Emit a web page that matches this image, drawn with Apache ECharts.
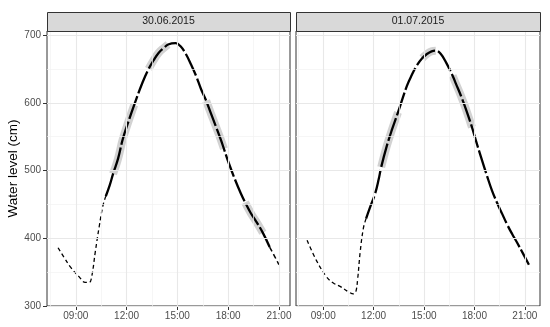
<!DOCTYPE html>
<html><head><meta charset="utf-8">
<script src="https://cdn.jsdelivr.net/npm/echarts@6/dist/echarts.min.js"></script>
<style>html,body{margin:0;padding:0;background:#fff}#c{width:550px;height:327px}</style>
</head><body><div id="c"></div>
<script>
// ---- data (hours of day, water level in cm) ----
const panelTitles = ['30.06.2015', '01.07.2015'];
const xTicks = [9, 12, 15, 18, 21];
const xMinorGrid = [7.5, 10.5, 13.5, 16.5, 19.5];
const yTicks = [300, 400, 500, 600, 700];
const yMinorGrid = [350, 450, 550, 650];
const yAxisTitle = 'Water level (cm)';

const day1Early = [[7.95,386],[8.3,372],[8.7,357],[9.2,343],[9.55,335],[9.8,335],[9.95,345],[10.15,380],[10.38,417],[10.6,448],[10.77,462]];
const day1Main = [[10.77,462],[11.0,478],[11.2,495],[11.5,518],[11.76,545],[12.05,568],[12.45,597],[12.94,630],[13.3,650],[13.6,663],[13.9,674],[14.2,681],[14.45,686],[14.9,688],[15.2,683],[15.5,672],[15.8,657],[16.1,640],[16.4,620],[16.7,603],[16.97,585],[17.26,566],[17.56,546],[17.75,532],[18.05,510],[18.4,487],[18.75,466],[19.0,453],[19.34,437],[19.65,425],[20.05,408],[20.45,387]];
const day1Late = [[20.45,387],[20.75,373],[21.0,361]];
const day1Grey = [
  [[11.2,495],[11.5,518],[11.76,545],[12.05,568],[12.45,597]],
  [[13.3,650],[13.6,663],[13.9,674],[14.2,681],[14.45,686]],
  [[16.7,603],[16.97,585],[17.26,566],[17.56,546],[17.75,532]],
  [[19.0,453],[19.34,437],[19.65,425],[20.05,408]]
];

const day2Early = [[8.04,397],[8.6,367],[9.2,343],[9.6,334],[10.0,329],[10.5,321],[10.8,318],[10.93,320],[11.05,340],[11.2,380],[11.39,415],[11.55,429]];
const day2Main = [[11.55,429],[11.79,446],[12.09,466],[12.3,487],[12.45,505],[12.78,536],[13.1,561],[13.45,586],[13.98,625],[14.27,641],[14.57,655],[14.9,666],[15.17,672],[15.45,676],[15.7,677],[16.0,672],[16.3,660],[16.7,640],[16.9,628],[17.2,610],[17.5,590],[17.85,564],[18.1,543],[18.4,519],[18.76,491],[19.05,470],[19.35,452],[19.65,436],[19.95,420],[20.25,406],[20.55,393],[20.9,377],[21.24,361]];
const day2Late = [];
const day2Grey = [
  [[12.45,505],[12.78,536],[13.1,561],[13.45,586]],
  [[14.9,666],[15.17,672],[15.45,676],[15.7,677]],
  [[16.7,640],[16.9,628],[17.2,610],[17.5,590],[17.85,564]]
];

const days = [
  {early: day1Early, main: day1Main, late: day1Late, grey: day1Grey},
  {early: day2Early, main: day2Main, late: day2Late, grey: day2Grey}
];

// ---- layout ----
const FONT = 'Liberation Sans, Arial, sans-serif';
const grids = [
  {left: 47, top: 31, width: 243, height: 275},
  {left: 296, top: 31, width: 244, height: 275}
];
const Y_MIN = 300, Y_MAX = 706;

function extentX(d) {
  const all = d.early.concat(d.main, d.late);
  let mn = Infinity, mx = -Infinity;
  all.forEach(p => { mn = Math.min(mn, p[0]); mx = Math.max(mx, p[0]); });
  const pad = (mx - mn) * 0.05;
  return [mn - pad, mx + pad];
}
function fmtHour(v) { return (v < 10 ? '0' : '') + v + ':00'; }

const option = {
  animation: false,
  backgroundColor: '#ffffff',
  textStyle: {fontFamily: FONT},
  grid: grids.map(g => Object.assign({show: true, borderColor: '#333333', borderWidth: 1, backgroundColor: '#ffffff', containLabel: false}, g)),
  xAxis: days.map((d, i) => {
    const ex = extentX(d);
    return {
      type: 'value', gridIndex: i, min: ex[0], max: ex[1],
      axisLine: {show: false},
      splitLine: {show: false},
      axisTick: {show: true, length: 4, customValues: xTicks, lineStyle: {color: '#333333', width: 1}},
      axisLabel: {show: true, customValues: xTicks, formatter: fmtHour, color: '#4d4d4d', fontSize: 10, fontFamily: FONT, margin: 5}
    };
  }),
  yAxis: days.map((d, i) => ({
    type: 'value', gridIndex: i, min: Y_MIN, max: Y_MAX,
    name: i === 0 ? yAxisTitle : '', nameLocation: 'middle', nameGap: 25,
    nameTextStyle: {fontSize: 13.5, color: '#000000', fontFamily: FONT},
    axisLine: {show: false},
    splitLine: {show: false},
    axisTick: {show: i === 0, length: 4, customValues: yTicks, lineStyle: {color: '#333333', width: 1}},
    axisLabel: {show: i === 0, customValues: yTicks, color: '#4d4d4d', fontSize: 10, fontFamily: FONT, margin: 6}
  })),
  graphic: [],
  series: []
};

// strips
grids.forEach((g, i) => {
  option.graphic.push({
    type: 'rect', left: g.left, top: 12, z: 10,
    shape: {x: 0, y: 0, width: g.width, height: 19},
    style: {fill: '#d9d9d9', stroke: '#333333', lineWidth: 1}
  });
  option.graphic.push({
    type: 'text', z: 11,
    x: g.left + g.width / 2, y: 21.5,
    style: {text: panelTitles[i], fill: '#1a1a1a', font: '10.5px ' + FONT, textAlign: 'center', textVerticalAlign: 'middle'}
  });
});

days.forEach((d, i) => {
  // grid lines
  const ml = [];
  xMinorGrid.forEach(v => ml.push({xAxis: v, lineStyle: {color: '#f2f2f2', width: 0.7, type: 'solid'}}));
  yMinorGrid.forEach(v => ml.push({yAxis: v, lineStyle: {color: '#f2f2f2', width: 0.7, type: 'solid'}}));
  xTicks.forEach(v => ml.push({xAxis: v, lineStyle: {color: '#e8e8e8', width: 1.1, type: 'solid'}}));
  yTicks.forEach(v => ml.push({yAxis: v, lineStyle: {color: '#e8e8e8', width: 1.1, type: 'solid'}}));
  option.series.push({
    type: 'line', xAxisIndex: i, yAxisIndex: i, data: [], z: 1, silent: true,
    markLine: {silent: true, symbol: ['none', 'none'], label: {show: false}, animation: false, data: ml}
  });
  // grey highlight segments
  d.grey.forEach(seg => option.series.push({
    type: 'line', xAxisIndex: i, yAxisIndex: i, data: seg, smooth: 0.4, showSymbol: false, z: 2, silent: true,
    lineStyle: {color: '#d2d2d2', width: 8, cap: 'butt'}
  }));
  // early dashed
  option.series.push({
    type: 'line', xAxisIndex: i, yAxisIndex: i, data: d.early, smooth: 0.4, showSymbol: false, z: 3, silent: true,
    lineStyle: {color: '#000000', width: 1.3, type: [4, 3]}
  });
  // main thick
  option.series.push({
    type: 'line', xAxisIndex: i, yAxisIndex: i, data: d.main, smooth: 0.4, showSymbol: false, z: 3, silent: true,
    lineStyle: {color: '#000000', width: 2.3, type: [24, 3]}
  });
  if (d.late.length) option.series.push({
    type: 'line', xAxisIndex: i, yAxisIndex: i, data: d.late, smooth: 0.4, showSymbol: false, z: 3, silent: true,
    lineStyle: {color: '#000000', width: 1.5, type: [5, 3]}
  });
});

const chart = echarts.init(document.getElementById('c'), null, {renderer: 'canvas'});
chart.setOption(option);
</script>
</body></html>
